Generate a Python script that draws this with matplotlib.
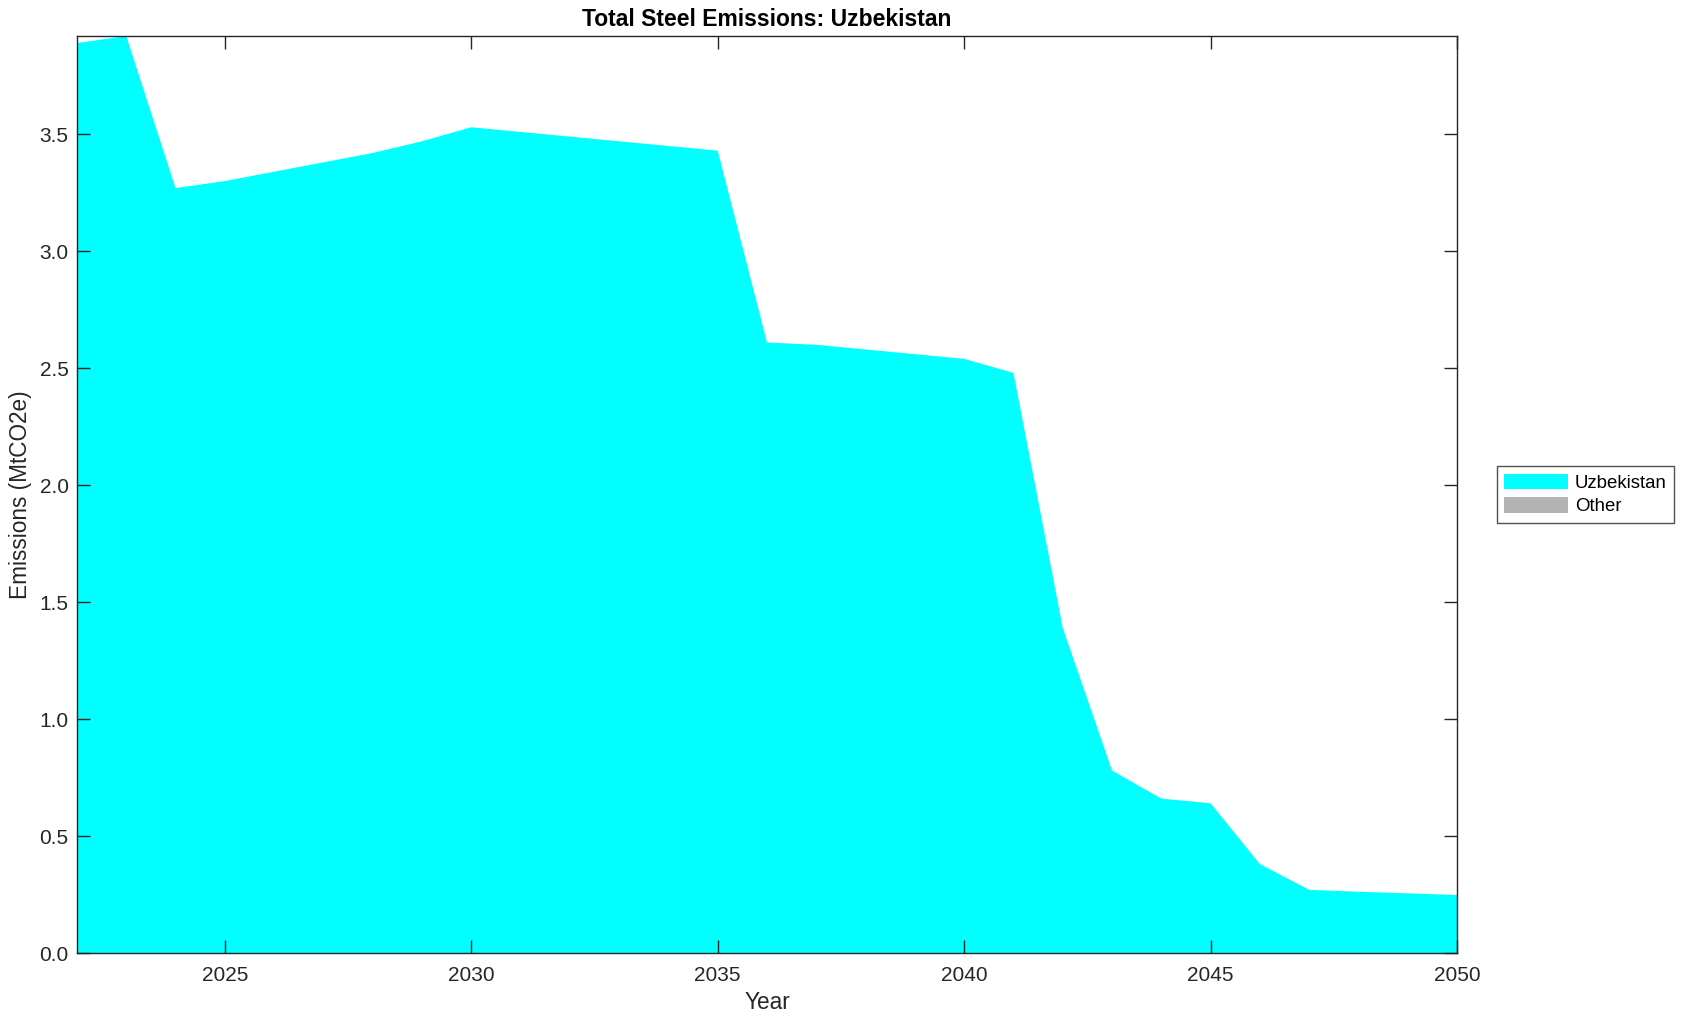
import matplotlib
matplotlib.use("Agg")
import matplotlib.pyplot as plt
from matplotlib.patches import Patch
import numpy as np

plt.rcParams['font.family'] = ['Liberation Sans', 'DejaVu Sans']

years = list(range(2022, 2051))
uzbekistan = [3.89, 3.92, 3.27, 3.30, 3.34, 3.38, 3.42, 3.47, 3.53,
              3.51, 3.49, 3.47, 3.45, 3.43, 2.61, 2.60, 2.58, 2.56,
              2.54, 2.48, 1.39, 0.78, 0.66, 0.64, 0.38, 0.27, 0.262,
              0.255, 0.248]
other = [0.0] * len(years)
series_names = ["Uzbekistan", "Other"]
colors = ["#00ffff", "#b3b3b3"]
xticks = [2025, 2030, 2035, 2040, 2045, 2050]
yticks = [0.0, 0.5, 1.0, 1.5, 2.0, 2.5, 3.0, 3.5]

fig = plt.figure(figsize=(16.87, 10.21), dpi=100)
ax = fig.add_axes([0.0456, 0.0666, 0.8181, 0.8981])

ax.stackplot(years, uzbekistan, other, colors=colors, linewidth=0)

ax.set_xlim(2022, 2050)
ax.set_ylim(0, max(uzbekistan))
ax.set_xticks(xticks)
ax.set_xticklabels([str(t) for t in xticks])
ax.set_yticks(yticks)
ax.set_yticklabels([f"{t:.1f}" for t in yticks])

dark = "#262626"
for s in ax.spines.values():
    s.set_color(dark)
    s.set_linewidth(1.0)
ax.tick_params(direction='in', length=9.5, width=1.0, colors=dark,
               labelsize=15, top=True, right=True)
ax.tick_params(axis='x', pad=9)
ax.tick_params(axis='y', pad=6)

ax.set_title("Total Steel Emissions: Uzbekistan", fontsize=16.5, fontweight='bold', pad=7)
ax.set_xlabel("Year", fontsize=16.3, color=dark, labelpad=5)
ax.set_ylabel("Emissions (MtCO2e)", fontsize=16.3, color=dark, labelpad=5)

handles = [Patch(facecolor=c, edgecolor='none') for c in colors]
leg = fig.legend(handles, series_names, loc='center left',
                 bbox_to_anchor=(0.8874, 0.5157), fontsize=13.4,
                 frameon=True, fancybox=False, edgecolor=dark,
                 handlelength=3.4, handleheight=0.9, borderpad=0.4,
                 labelspacing=0.3, handletextpad=0.38, borderaxespad=0)
leg.get_frame().set_linewidth(1.0)

fig.savefig("out.png", dpi=100)
